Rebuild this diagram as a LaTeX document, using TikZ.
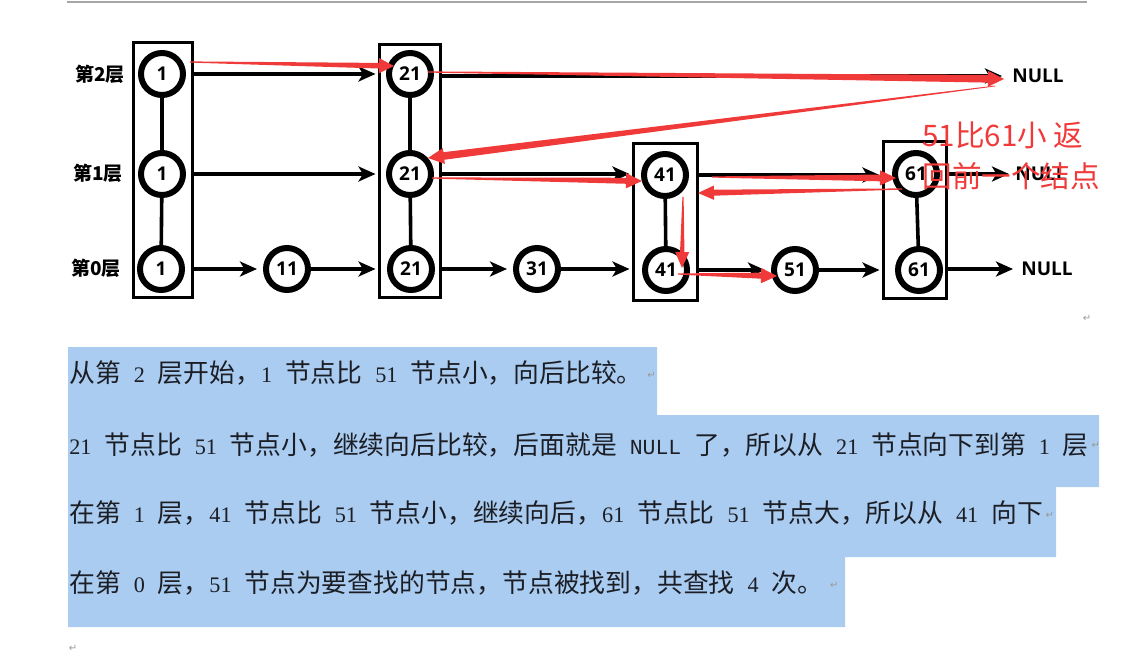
\documentclass[tikz,border=0pt]{standalone}
\usepackage{fontspec}
\setmainfont{Liberation Sans}
\newfontfamily\cjk{Noto Sans CJK SC}
\newfontfamily\lat[Scale=0.833]{Liberation Mono}
\newfontfamily\ser[Scale=0.86]{Liberation Serif}
\newfontfamily\nodefont{Open Sans}
\newfontfamily\sym{DejaVu Sans}
\usetikzlibrary{arrows.meta,calc}
\definecolor{hl}{RGB}{170,204,240}
\definecolor{redc}{RGB}{240,58,58}
\definecolor{txt}{RGB}{28,30,38}
\newcommand\hs{\hspace{0.5em}}
\newcommand\nm[1]{{\ser\relax#1}}
\newcommand\redarr[6]{%
  \coordinate (ra) at (#1);
  \coordinate (rb) at (#2);
  \coordinate (rc) at ($(rb)!#5!(ra)$);
  \fill[redc] ($(ra)!#3!90:(rb)$) -- ($(rc)!#4!90:(rb)$) -- ($(rc)!#6!90:(rb)$) -- (rb)
    -- ($(rc)!#6!-90:(rb)$) -- ($(rc)!#4!-90:(rb)$) -- ($(ra)!#3!-90:(rb)$) -- cycle;
}
\tikzset{
  circ/.style={circle, draw, line width=3pt, minimum size=21pt, inner sep=0pt, fill=white,
    font=\nodefont\bfseries\fontsize{9.5}{10}\selectfont},
  colbox/.style={draw, line width=1.5pt, rectangle, inner sep=0pt},
  blk/.style={line width=2pt, -{Stealth[length=8.5pt,width=7.5pt,inset=2.2pt]}, shorten >=1pt},
  vline/.style={line width=1.8pt},
  nulltxt/.style={anchor=west, inner sep=0pt, font=\nodefont\bfseries\fontsize{9.5}{10}\selectfont},
  layer/.style={inner sep=0pt, font=\cjk\bfseries\fontsize{9.5}{10}\selectfont},
  para/.style={anchor=west, inner sep=0pt, text=txt, font=\fontsize{12.9}{15}\selectfont},
  rettxt/.style={inner sep=0pt, text=black!40, font=\sym\fontsize{5}{6}\selectfont},
  retafter/.style={rettxt, anchor=west},
  redtxt/.style={anchor=base west, inner sep=0pt, text=redc, font=\cjk\fontsize{14.8}{16}\selectfont},
}
\begin{document}
\begin{tikzpicture}[x=0.5pt,y=-0.5pt]
\useasboundingbox (0,0) rectangle (1127,659);
% header rule
\draw[black!35, line width=1pt] (67,2) -- (1087,2);
% highlight
\fill[hl] (68,347) -- (657,347) -- (657,415) -- (1099,415) -- (1099,487) -- (1056,487)
  -- (1056,557) -- (845,557) -- (845,627) -- (68,627) -- cycle;
% paragraph text
\node[para] (t1) at (69,373) {{\cjk 从第}\hs\nm{2}\hs{\cjk 层开始，}\nm{1}\hs{\cjk 节点比}\hs\nm{51}\hs{\cjk 节点小，向后比较。}};
\node[para] (t2) at (69,445) {\nm{21}\hs{\cjk 节点比}\hs\nm{51}\hs{\cjk 节点小，继续向后比较，后面就是}\hs{\lat NULL}\hs{\cjk 了，所以从}\hs\nm{21}\hs{\cjk 节点向下到第}\hs\nm{1}\hs{\cjk 层}};
\node[para] (t3) at (69,513) {{\cjk 在第}\hs\nm{1}\hs{\cjk 层，}\nm{41}\hs{\cjk 节点比}\hs\nm{51}\hs{\cjk 节点小，继续向后，}\nm{61}\hs{\cjk 节点比}\hs\nm{51}\hs{\cjk 节点大，所以从}\hs\nm{41}\hs{\cjk 向下}};
\node[para] (t4) at (69,583) {{\cjk 在第}\hs\nm{0}\hs{\cjk 层，}\nm{51}\hs{\cjk 节点为要查找的节点，节点被找到，共查找}\hs\nm{4}\hs{\cjk 次。}};
% return marks
\node[rettxt] (r0) at (1087,318) {↵};
\node[retafter] (r1) at ($(t1.east)+(4,2)$) {↵};
\node[retafter] (r2) at ($(t2.east)+(2,0)$) {↵};
\node[retafter] (r3) at ($(t3.east)+(2,2)$) {↵};
\node[retafter] (r4) at ($(t4.east)+(6,2)$) {↵};
\node[rettxt] (r5) at (73,648) {↵};
% layer labels
\node[layer] (lab2) at (100,74) {第2层};
\node[layer] (lab1) at (98,173) {第1层};
\node[layer] (lab0) at (96,268) {第0层};
% column boxes
\node[colbox, minimum width=29.5pt, minimum height=127.5pt] (b1) at (162.5,169.5) {};
\node[colbox, minimum width=30.5pt, minimum height=126.5pt] (b21) at (409.5,170.5) {};
\node[colbox, minimum width=32pt, minimum height=78.5pt] (b41) at (665,221.5) {};
\node[colbox, minimum width=31.5pt, minimum height=78.5pt] (b61) at (914.5,219.5) {};
% circles
\node[circ] (c12) at (162,74) {1};
\node[circ] (c11) at (162,174) {1};
\node[circ] (c10) at (161,269) {1};
\node[circ] (c212) at (410,74) {21};
\node[circ] (c211) at (410,174) {21};
\node[circ] (c210) at (411,269) {21};
\node[circ] (c411) at (665,175) {41};
\node[circ] (c410) at (666,270) {41};
\node[circ] (c611) at (916,174) {61};
\node[circ] (c610) at (919,270) {61};
\node[circ] (c11n) at (287,269) {11};
\node[circ] (c31) at (537,269) {31};
\node[circ] (c51) at (795,270) {51};
% NULL
\node[nulltxt] (null2) at (1012,76) {NULL};
\node[nulltxt] (null1) at (1015,174) {NULL};
\node[nulltxt] (null0) at (1021,269) {NULL};
% vertical links
\draw[vline] (c12) -- (c11);
\draw[vline] (c11) -- (c10);
\draw[vline] (c212) -- (c211);
\draw[vline] (c211) -- (c210);
\draw[vline] (c411) -- (c410);
\draw[vline] (c611) -- (c610);
% level 2
\draw[blk] (b1.east |- c12) -- (b21.west |- c12);
\draw[blk, shorten >=5pt] (b21.east |- null2) -- (null2.west);
% level 1
\draw[blk] (b1.east |- c11) -- (b21.west |- c11);
\draw[blk] (b21.east |- c211) -- (b41.west |- c211);
\draw[blk] (b41.east |- c411) -- (b61.west |- c411);
\draw[blk, shorten >=3pt] (b61.east |- null1) -- (null1.west);
% level 0
\draw[blk, shorten >=3pt] (b1.east |- c10) -- (c11n.west);
\draw[blk] (c11n.east) -- (b21.west |- c11n);
\draw[blk, shorten >=3pt] (b21.east |- c31) -- (c31.west);
\draw[blk] (c31.east) -- (b41.west |- c31);
\draw[blk, shorten >=3pt] (b41.east |- c51) -- (c51.west);
\draw[blk] (c51.east) -- (b61.west |- c51);
\draw[blk, shorten >=4pt] (b61.east |- null0) -- (null0.west);
% red search path
\coordinate (p1s) at (190,62);  \coordinate (p1e) at (394,66);
\coordinate (p2s) at (428,72);  \coordinate (p2e) at (1004,79);
\coordinate (p3s) at (995,86);  \coordinate (p3e) at (428,158);
\coordinate (p4s) at (432,178); \coordinate (p4e) at (642,181);
\coordinate (p5s) at (712,177); \coordinate (p5e) at (896,178);
\coordinate (p6s) at (902,189); \coordinate (p6e) at (698,193);
\coordinate (p7s) at (683,197); \coordinate (p7e) at (682,268);
\coordinate (p8s) at (678,274); \coordinate (p8e) at (777,276);
\redarr{p1s}{p1e}{0.3pt}{1.4pt}{7.5pt}{3.8pt}
\redarr{p2s}{p2e}{0.3pt}{1.9pt}{8pt}{4pt}
\redarr{p3s}{p3e}{0.2pt}{1.9pt}{8pt}{4pt}
\redarr{p4s}{p4e}{0.3pt}{1.5pt}{8pt}{3.8pt}
\redarr{p5s}{p5e}{0.3pt}{1.7pt}{8pt}{3.8pt}
\redarr{p6s}{p6e}{0.3pt}{1.5pt}{8pt}{3.6pt}
\redarr{p7s}{p7e}{0.3pt}{1.1pt}{8pt}{3.5pt}
\redarr{p8s}{p8e}{0.3pt}{1.5pt}{8pt}{3.8pt}
% red note
\node[redtxt] (rt1) at (922,146) {51比61小 返};
\node[redtxt] (rt2) at (922,187) {回前一个结点};
\end{tikzpicture}
\end{document}
